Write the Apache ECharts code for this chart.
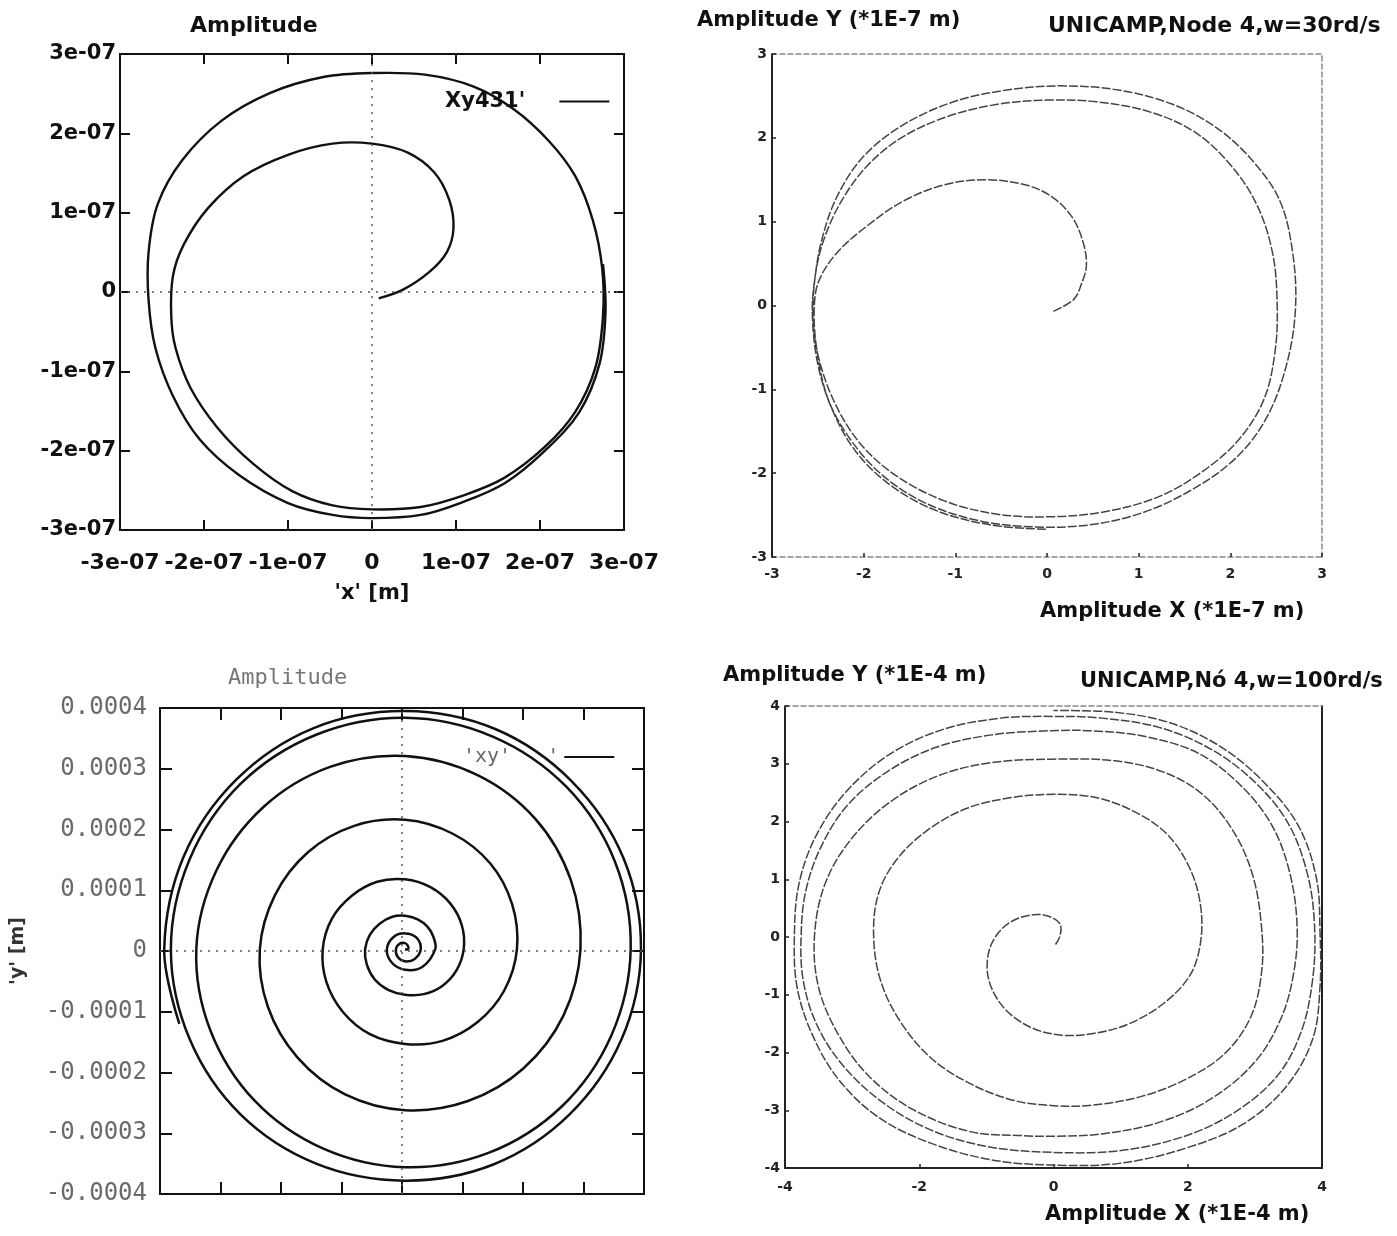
<!DOCTYPE html>
<html>
<head>
<meta charset="utf-8">
<script src="https://cdn.jsdelivr.net/npm/echarts@6/dist/echarts.min.js"></script>
<style>html,body{margin:0;padding:0;background:#fff}#c{width:1397px;height:1236px}</style>
</head>
<body>
<div id="c"></div>
<script>
// ---------- DATA ----------
// Panel 1 (top-left): orbit in units of 1e-7 m
const p1Orbit = [[0.08,-0.08],[0.37,0.03],[0.68,0.25],[0.89,0.50],[0.97,0.80],[0.92,1.16],[0.74,1.51],[0.42,1.76],[0,1.87],[-0.47,1.87],[-1.0,1.73],[-1.53,1.46],[-1.95,1.06],[-2.24,0.60],[-2.37,0.20],[-2.39,-0.30],[-2.34,-0.70],[-2.16,-1.21],[-1.84,-1.71],[-1.42,-2.16],[-0.95,-2.51],[-0.47,-2.69],[0,-2.74],[0.58,-2.71],[1.10,-2.56],[1.58,-2.34],[2.05,-1.96],[2.42,-1.51],[2.66,-0.95],[2.75,-0.30],[2.74,0.30],[2.63,0.90],[2.42,1.46],[2.10,1.91],[1.68,2.31],[1.21,2.59],[0.63,2.74],[0,2.76],[-0.58,2.71],[-1.21,2.51],[-1.79,2.16],[-2.26,1.66],[-2.55,1.11],[-2.66,0.50],[-2.66,-0.10],[-2.58,-0.70],[-2.37,-1.31],[-2.05,-1.86],[-1.58,-2.31],[-1.0,-2.66],[-0.47,-2.81],[0,-2.85],[0.58,-2.81],[1.05,-2.66],[1.58,-2.41],[2.05,-2.01],[2.47,-1.51],[2.71,-0.90],[2.78,-0.25],[2.75,0.35]];
const p1Name = "Xy431'";
const p1XTickLabels = ['-3e-07','-2e-07','-1e-07','0','1e-07','2e-07','3e-07'];
const p1YTickLabels = ['-3e-07','-2e-07','-1e-07','0','1e-07','2e-07','3e-07'];

// Panel 2 (top-right): orbit in units of 1e-7 m
const p2Orbit = [[0.07,-0.07],[0.29,0.07],[0.37,0.24],[0.43,0.48],[0.39,0.77],[0.27,1.06],[0.05,1.30],[-0.24,1.44],[-0.68,1.50],[-1.12,1.44],[-1.56,1.25],[-1.95,0.96],[-2.29,0.63],[-2.49,0.29],[-2.54,-0.05],[-2.51,-0.53],[-2.39,-1.11],[-2.15,-1.59],[-1.80,-2.02],[-1.32,-2.36],[-0.73,-2.57],[-0.15,-2.64],[0.44,-2.62],[1.02,-2.48],[1.56,-2.21],[2.05,-1.83],[2.39,-1.35],[2.61,-0.72],[2.71,-0.05],[2.68,0.63],[2.54,1.25],[2.24,1.73],[1.85,2.12],[1.37,2.40],[0.78,2.57],[0.15,2.62],[-0.44,2.57],[-1.02,2.43],[-1.56,2.16],[-2.0,1.78],[-2.29,1.30],[-2.46,0.77],[-2.54,0.24],[-2.55,-0.20],[-2.49,-0.63],[-2.32,-1.15],[-2.05,-1.63],[-1.66,-2.02],[-1.12,-2.33],[-0.54,-2.49],[0.05,-2.52],[0.63,-2.46],[1.22,-2.28],[1.71,-1.97],[2.10,-1.59],[2.37,-1.11],[2.49,-0.53],[2.51,0.05],[2.46,0.63],[2.29,1.20],[2.0,1.68],[1.61,2.07],[1.12,2.31],[0.54,2.43],[0,2.45],[-0.54,2.40],[-1.07,2.26],[-1.56,2.02],[-1.95,1.68],[-2.24,1.25],[-2.44,0.77],[-2.53,0.34],[-2.56,-0.10],[-2.50,-0.70],[-2.34,-1.25],[-2.08,-1.75],[-1.70,-2.15],[-1.20,-2.45],[-0.60,-2.62],[0,-2.67]];
const p2TickLabels = ['-3','-2','-1','0','1','2','3'];

// Panel 3 (bottom-left): orbit in units of 1e-4 m
const p3Orbit = [[0.05,0.03],[0.10,0.03],[0.10,0.08],[0.05,0.13],[-0.04,0.12],[-0.10,0.03],[-0.07,-0.10],[0.05,-0.17],[0.21,-0.13],
[0.31,0.03],[0.24,0.22],[0.05,0.29],[-0.14,0.23],[-0.25,0.03],[-0.17,-0.19],[0.05,-0.31],[0.34,-0.26],
[0.55,0.03],[0.52,0.23],[0.42,0.40],[0.26,0.52],[0.05,0.58],[-0.17,0.56],[-0.37,0.45],[-0.53,0.27],[-0.61,0.03],[-0.58,-0.23],[-0.45,-0.47],[-0.23,-0.64],[0.05,-0.72],[0.36,-0.71],[0.66,-0.58],[0.90,-0.32],
[1.02,0.03],[0.99,0.42],[0.80,0.78],[0.47,1.05],[0.05,1.18],[-0.41,1.14],[-0.83,0.91],[-1.16,0.53],[-1.31,0.03],[-1.25,-0.51],[-0.98,-1.00],[-0.53,-1.37],[0.05,-1.53],[0.67,-1.48],[1.25,-1.17],[1.69,-0.65],
[1.90,0.03],[1.82,0.77],[1.46,1.44],[0.84,1.93],[0.05,2.16],[-0.79,2.06],[-1.55,1.63],[-2.10,0.92],[-2.35,0.03],[-2.22,-0.91],[-1.73,-1.75],[-0.94,-2.36],[0.05,-2.62],[1.09,-2.47],[2.01,-1.93],[2.67,-1.06],
[2.95,0.03],[2.79,1.17],[2.20,2.18],[1.24,2.90],[0.05,3.21],[-1.19,3.03],[-2.29,2.37],[-3.07,1.32],[-3.40,0.03],[-3.17,-1.30],[-2.44,-2.46],[-1.31,-3.25],[0.05,-3.56],[1.44,-3.32],[2.64,-2.56],[3.46,-1.39],
[3.78,0.03],[3.52,1.47],[2.72,2.70],[1.50,3.53],[0.05,3.84],[-1.42,3.56],[-2.67,2.75],[-3.51,1.51],[-3.82,0.03],[-3.51,-1.45],[-2.67,-2.69],[-1.42,-3.50],[0.05,-3.78],[1.52,-3.51],[2.77,-2.69],[3.63,-1.45],
[3.95,0.03],[3.66,1.53],[2.81,2.79],[1.55,3.65],[0.05,3.95],[-1.46,3.67],[-2.74,2.82],[-3.61,1.55],[-3.93,0.03],[-3.68,-1.20]];
const p3Name = "'xy'";
const p3YTickLabels = ['-0.0004','-0.0003','-0.0002','-0.0001','0','0.0001','0.0002','0.0003','0.0004'];

// Panel 4 (bottom-right): orbit in units of 1e-4 m
const p4Orbit = [[0.03,-0.13],[0.10,0.03],[0.10,0.22],[-0.03,0.34],[-0.26,0.39],[-0.59,0.29],[-0.85,0.03],[-0.98,-0.35],[-0.95,-0.80],[-0.72,-1.25],[-0.33,-1.57],[0.13,-1.70],[0.59,-1.67],[1.11,-1.51],[1.63,-1.16],[2.03,-0.67],[2.19,-0.10],[2.19,0.55],[2.03,1.19],[1.70,1.77],[1.24,2.15],[0.65,2.41],[0,2.47],[-0.65,2.41],[-1.31,2.22],[-1.90,1.83],[-2.35,1.32],[-2.61,0.74],[-2.68,0.03],[-2.58,-0.74],[-2.29,-1.45],[-1.83,-2.09],[-1.24,-2.54],[-0.59,-2.83],[0,-2.92],[0.59,-2.91],[1.31,-2.76],[1.96,-2.47],[2.55,-2.02],[2.94,-1.38],[3.10,-0.61],[3.10,0.16],[2.97,1.06],[2.68,1.83],[2.22,2.47],[1.63,2.86],[0.92,3.05],[0,3.08],[-0.92,3.02],[-1.70,2.80],[-2.42,2.35],[-3.01,1.70],[-3.40,0.93],[-3.56,0.03],[-3.50,-0.87],[-3.20,-1.70],[-2.75,-2.41],[-2.09,-2.99],[-1.24,-3.37],[-0.46,-3.44],[0,-3.45],[0.72,-3.41],[1.57,-3.21],[2.35,-2.80],[3.01,-2.15],[3.40,-1.38],[3.58,-0.61],[3.63,0.16],[3.53,1.06],[3.27,1.90],[2.81,2.60],[2.16,3.18],[1.37,3.47],[0.59,3.57],[-0.07,3.57],[-0.92,3.50],[-1.76,3.28],[-2.48,2.86],[-3.07,2.28],[-3.46,1.57],[-3.69,0.80],[-3.76,0.03],[-3.73,-0.74],[-3.53,-1.51],[-3.14,-2.22],[-2.55,-2.86],[-1.83,-3.34],[-0.98,-3.63],[0,-3.73],[0.98,-3.70],[1.90,-3.47],[2.68,-3.05],[3.33,-2.41],[3.69,-1.64],[3.86,-0.74],[3.89,0.16],[3.79,1.06],[3.50,1.96],[3.01,2.67],[2.35,3.25],[1.57,3.63],[0.72,3.79],[0,3.82],[-0.78,3.79],[-1.63,3.60],[-2.42,3.18],[-3.07,2.54],[-3.53,1.77],[-3.79,0.93],[-3.86,0.03],[-3.82,-0.87],[-3.59,-1.70],[-3.20,-2.47],[-2.61,-3.12],[-1.83,-3.57],[-0.92,-3.86],[0,-3.95],[0.98,-3.92],[1.96,-3.66],[2.81,-3.25],[3.46,-2.60],[3.86,-1.77],[3.97,-0.87],[3.97,0.10],[3.92,1.00],[3.66,1.90],[3.20,2.60],[2.55,3.25],[1.76,3.70],[0.92,3.89],[0,3.92]];
const p4XTickLabels = ['-4','-2','0','2','4'];
const p4YTickLabels = ['-4','-3','-2','-1','0','1','2','3','4'];

// ---------- CHART ----------
const SANS = 'DejaVu Sans';
const MONO = 'DejaVu Sans Mono';
const chart = echarts.init(document.getElementById('c'));

const noSplit = {show:false};
function ax(o){ return Object.assign({type:'value', splitLine:noSplit, axisLine:{show:false,onZero:false}, axisTick:{show:false}, axisLabel:{show:false}}, o); }
const tick1 = {show:true, inside:true, length:10, lineStyle:{color:'#111', width:2}};
const tick3 = {show:true, inside:true, length:12, lineStyle:{color:'#111', width:2}};
const tickS = {show:true, inside:true, length:4, lineStyle:{color:'#222', width:1.5}};
const dotted = {show:true, onZero:false, lineStyle:{color:'#888', width:1.5, type:[5,3]}};
const solid = {show:true, onZero:false, lineStyle:{color:'#222', width:2}};
const lab1x = {color:'#111', fontFamily:SANS, fontWeight:'bold', fontSize:22};
const lab1y = {color:'#111', fontFamily:SANS, fontWeight:'bold', fontSize:21};
const labS = {color:'#222', fontFamily:SANS, fontWeight:'bold', fontSize:14};
const labM = {color:'#6a6a6a', fontFamily:MONO, fontSize:24};
const zeroLines = {silent:true, symbol:'none', label:{show:false}, lineStyle:{type:[2,6], color:'#555', width:1.5}, data:[{xAxis:0},{yAxis:0}]};
const txt = (t,l,tp,font,fill) => ({type:'text', left:l, top:tp, style:{text:t, font:font, fill:fill||'#111'}});

// Orbit drawn as one smooth curve through the data points, positioned by the axes (api.coord)
function orbitSeries(name, pts, xi, yi, stroke, width, dash, withZero) {
  const s = {
    name: name, type:'custom', xAxisIndex:xi, yAxisIndex:yi, data: pts,
    encode:{x:0, y:1}, itemStyle:{color:stroke}, silent:true,
    renderItem: function(params, api) {
      if (params.dataIndex !== 0) return null;
      const points = pts.map(p => api.coord(p));
      return {type:'polyline', shape:{points:points, smooth:0.35},
              style:{stroke:stroke, lineWidth:width, fill:null, lineDash:dash || null, lineJoin:'round'}};
    }
  };
  if (withZero) s.markLine = zeroLines;
  return s;
}

const option = {
  animation:false,
  backgroundColor:'#fff',
  grid:[
    {left:120, top:54, width:504, height:476, show:true, borderColor:'#111', borderWidth:2},
    {left:772, top:54, width:550, height:503},
    {left:160, top:708, width:484, height:486, show:true, borderColor:'#111', borderWidth:2},
    {left:785, top:706, width:537, height:462}
  ],
  xAxis:[
    ax({gridIndex:0, position:'bottom', min:-3, max:3, interval:1, axisTick:tick1,
        axisLabel:Object.assign({show:true, margin:22, formatter:v=>p1XTickLabels[Math.round(v+3)]}, lab1x),
        name:"'x' [m]", nameLocation:'middle', nameGap:53, nameTextStyle:lab1y}),
    ax({gridIndex:0, position:'top', min:-3, max:3, interval:1, axisTick:tick1}),
    ax({gridIndex:1, position:'bottom', min:-3, max:3, interval:1, axisLine:dotted, axisTick:tickS,
        axisLabel:Object.assign({show:true, margin:10, formatter:v=>p2TickLabels[Math.round(v+3)]}, labS)}),
    ax({gridIndex:1, position:'top', min:-3, max:3, interval:1, axisLine:dotted}),
    ax({gridIndex:2, position:'bottom', min:-4, max:4, interval:1, axisTick:tick3}),
    ax({gridIndex:2, position:'top', min:-4, max:4, interval:1, axisTick:tick3}),
    ax({gridIndex:3, position:'bottom', min:-4, max:4, interval:2, axisLine:solid, axisTick:tickS,
        axisLabel:Object.assign({show:true, margin:12, formatter:v=>p4XTickLabels[Math.round((v+4)/2)]}, labS)}),
    ax({gridIndex:3, position:'top', min:-4, max:4, interval:2, axisLine:dotted})
  ],
  yAxis:[
    ax({gridIndex:0, position:'left', min:-3, max:3, interval:1, axisTick:tick1,
        axisLabel:Object.assign({show:true, margin:4, formatter:v=>p1YTickLabels[Math.round(v+3)]}, lab1y)}),
    ax({gridIndex:0, position:'right', min:-3, max:3, interval:1, axisTick:tick1}),
    ax({gridIndex:1, position:'left', min:-3, max:3, interval:1, axisLine:solid, axisTick:tickS,
        axisLabel:Object.assign({show:true, margin:5, formatter:v=>p2TickLabels[Math.round(v+3)]}, labS)}),
    ax({gridIndex:1, position:'right', min:-3, max:3, interval:1, axisLine:dotted}),
    ax({gridIndex:2, position:'left', min:-4, max:4, interval:1, axisTick:tick3,
        axisLabel:Object.assign({show:true, margin:13, formatter:v=>p3YTickLabels[Math.round(v+4)]}, labM),
        name:"'y' [m]", nameLocation:'middle', nameRotate:90, nameGap:132,
        nameTextStyle:{color:'#333', fontFamily:SANS, fontWeight:'bold', fontSize:19}}),
    ax({gridIndex:2, position:'right', min:-4, max:4, interval:1, axisTick:tick3}),
    ax({gridIndex:3, position:'left', min:-4, max:4, interval:1, axisLine:solid, axisTick:tickS,
        axisLabel:Object.assign({show:true, margin:5, formatter:v=>p4YTickLabels[Math.round(v+4)]}, labS)}),
    ax({gridIndex:3, position:'right', min:-4, max:4, interval:1, axisLine:solid})
  ],
  legend:[
    {data:[p1Name], left:440, top:86, align:'right', icon:'rect', itemWidth:50, itemHeight:2,
     formatter:n=>n+'    ', textStyle:lab1y, selectedMode:false},
    {data:[p3Name], left:458, top:742, align:'right', icon:'rect', itemWidth:50, itemHeight:2,
     formatter:n=>n+"   '", textStyle:{color:'#666', fontFamily:MONO, fontSize:20}, selectedMode:false}
  ],
  series:[
    orbitSeries(p1Name, p1Orbit, 0, 0, '#111', 2.4, null, true),
    orbitSeries('p2', p2Orbit, 2, 2, '#444', 1.5, [9,2], false),
    orbitSeries(p3Name, p3Orbit, 4, 4, '#111', 2.5, null, true),
    orbitSeries('p4', p4Orbit, 6, 6, '#444', 1.5, [9,2], false)
  ],
  graphic:[
    txt('Amplitude', 190, 15, 'bold 22px "DejaVu Sans"'),
    txt('Amplitude Y (*1E-7 m)', 697, 10, 'bold 21px "DejaVu Sans"'),
    txt('UNICAMP,Node 4,w=30rd/s', 1048, 15, 'bold 22px "DejaVu Sans"'),
    txt('Amplitude X (*1E-7 m)', 1040, 601, 'bold 21px "DejaVu Sans"'),
    txt('Amplitude', 228, 667, '22px "DejaVu Sans Mono"', '#777'),
    txt('Amplitude Y (*1E-4 m)', 723, 665, 'bold 21px "DejaVu Sans"'),
    txt('UNICAMP,Nó 4,w=100rd/s', 1080, 671, 'bold 21px "DejaVu Sans"'),
    txt('Amplitude X (*1E-4 m)', 1045, 1204, 'bold 21px "DejaVu Sans"')
  ]
};
chart.setOption(option);
</script>
</body>
</html>
